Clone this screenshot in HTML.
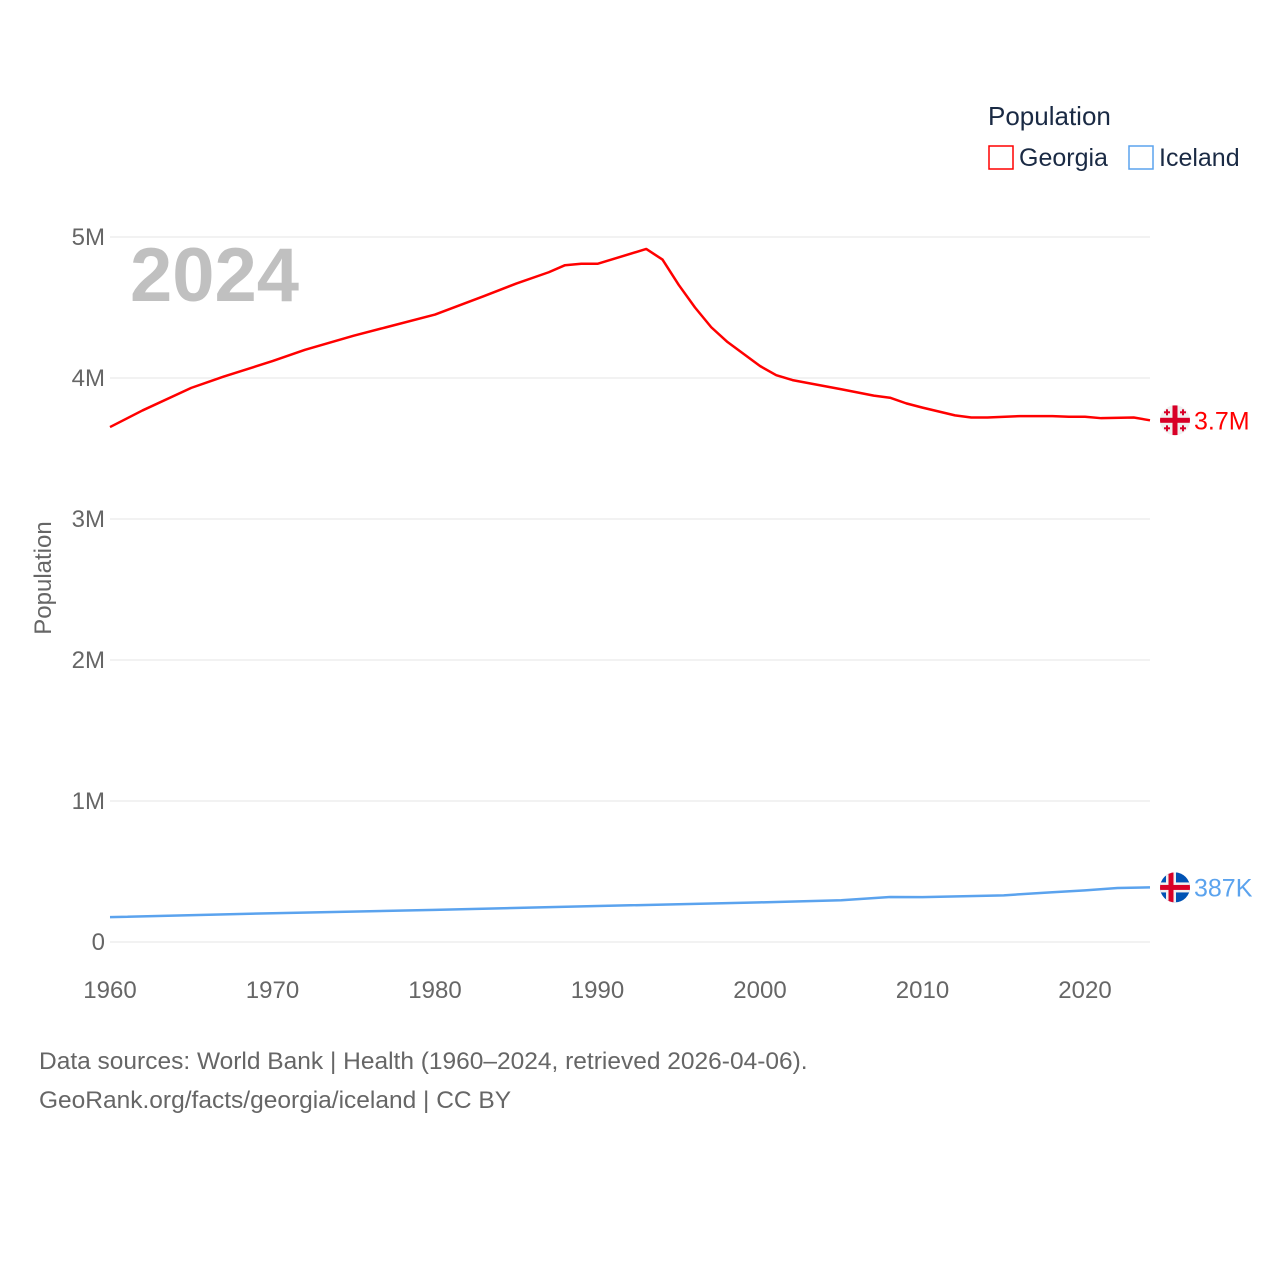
<!DOCTYPE html>
<html><head><meta charset="utf-8">
<style>
body{margin:0;background:#fff;}
svg{display:block;font-family:"Liberation Sans",sans-serif;}
</style></head>
<body>
<svg id="chart" width="1280" height="1280" viewBox="0 0 1280 1280">
<text x="988" y="125" font-size="26" fill="#1a2a44">Population</text>
<rect x="989" y="146" width="24" height="23" fill="none" stroke="#ff0000" stroke-width="1.5"/>
<text x="1019" y="166" font-size="25" fill="#1a2a44">Georgia</text>
<rect x="1129" y="146" width="24" height="23" fill="none" stroke="#5ba3ee" stroke-width="1.5"/>
<text x="1159" y="166" font-size="25" fill="#1a2a44">Iceland</text>
<text x="130" y="301" font-size="76" font-weight="bold" fill="#c0c0c0">2024</text>
<text transform="translate(51,578) rotate(-90)" text-anchor="middle" font-size="24" fill="#666">Population</text>
<g id="grid"></g><g id="xt"></g><g id="series"></g>
<text x="39" y="1069" font-size="24.5" fill="#666">Data sources: World Bank | Health (1960–2024, retrieved 2026-04-06).</text>
<text x="39" y="1108" font-size="24.5" fill="#666">GeoRank.org/facts/georgia/iceland | CC BY</text>
</svg>
<script>
const yTicks=[0,1,2,3,4,5];
const yTickLabels=["0","1M","2M","3M","4M","5M"];
const xTicks=[1960,1970,1980,1990,2000,2010,2020];
const georgiaYears=[1960,1962,1965,1967,1970,1972,1975,1977,1980,1983,1985,1987,1988,1989,1990,1993,1994,1995,1996,1997,1998,1999,2000,2001,2002,2005,2007,2008,2009,2010,2012,2013,2014,2016,2018,2019,2020,2021,2023,2024];
const georgiaValues=[3.652,3.77,3.93,4.01,4.12,4.20,4.30,4.36,4.45,4.58,4.67,4.75,4.80,4.81,4.81,4.915,4.84,4.66,4.50,4.36,4.255,4.17,4.085,4.02,3.985,3.92,3.875,3.86,3.82,3.79,3.735,3.72,3.72,3.73,3.73,3.725,3.725,3.715,3.72,3.70];
const icelandYears=[1960,1970,1980,1990,2000,2005,2008,2010,2015,2018,2020,2022,2024];
const icelandValues=[0.176,0.204,0.228,0.255,0.281,0.296,0.319,0.318,0.331,0.353,0.366,0.383,0.387];
const NS="http://www.w3.org/2000/svg";
const X=y=>110+(y-1960)*16.25;
const Y=v=>942-v*141;
function mk(t,a,p){const e=document.createElementNS(NS,t);for(const k in a)e.setAttribute(k,a[k]);p.appendChild(e);return e;}
const grid=document.getElementById('grid');
yTicks.forEach((v,i)=>{
 const l=mk('line',{x1:110,x2:1150,y1:Y(v),y2:Y(v),stroke:'#e6e6e6','stroke-width':1},grid);
 
 
 const t=mk('text',{x:105,y:Y(v)+8,'text-anchor':'end','font-size':24,fill:'#666'},grid);
 t.textContent=yTickLabels[i];
 
 
});
const xt=document.getElementById('xt');
xTicks.forEach(v=>{
 const t=mk('text',{x:X(v),y:998,'text-anchor':'middle','font-size':24,fill:'#666'},xt);
 t.textContent=v;
 
 
});
const s=document.getElementById('series');
function line(ys,vs,c,name){
 const p=mk('path',{d:ys.map((y,i)=>(i?'L':'M')+X(y)+','+Y(vs[i])).join(''),fill:'none',stroke:c,'stroke-width':2.5,'stroke-linejoin':'round'},s);
 
 
}
line(georgiaYears,georgiaValues,'#ff0000','georgia-line');
line(icelandYears,icelandValues,'#5ba3ee','iceland-line');
function flag(cy,kind,label,color,name){
 const g=mk('g',{},s);
 
 
 const cx=1175,r=15;
 const cid='c'+kind;
 const cp=mk('clipPath',{id:cid},g);mk('circle',{cx,cy,r},cp);
 const gg=mk('g',{'clip-path':'url(#'+cid+')'},g);
 if(kind==='ge'){
  mk('rect',{x:cx-r,y:cy-r,width:2*r,height:2*r,fill:'#f0f0f0'},gg);
  mk('rect',{x:cx-r,y:cy-2.5,width:2*r,height:5,fill:'#d80027'},gg);
  mk('rect',{x:cx-2.5,y:cy-r,width:5,height:2*r,fill:'#d80027'},gg);
  [[-8,-8],[8,-8],[-8,8],[8,8]].forEach(([dx,dy])=>{
   mk('rect',{x:cx+dx-3,y:cy+dy-1,width:6,height:2,fill:'#d80027'},gg);
   mk('rect',{x:cx+dx-1,y:cy+dy-3,width:2,height:6,fill:'#d80027'},gg);
  });
 }else{
  mk('rect',{x:cx-r,y:cy-r,width:2*r,height:2*r,fill:'#0052b4'},gg);
  mk('rect',{x:cx-r,y:cy-5,width:2*r,height:10,fill:'#f0f0f0'},gg);
  mk('rect',{x:cx-9,y:cy-r,width:10,height:2*r,fill:'#f0f0f0'},gg);
  mk('rect',{x:cx-r,y:cy-2.5,width:2*r,height:5,fill:'#d80027'},gg);
  mk('rect',{x:cx-6.5,y:cy-r,width:5,height:2*r,fill:'#d80027'},gg);
 }
 const t=mk('text',{x:1194,y:cy+9,'font-size':25,fill:color},s);
 t.textContent=label;
 
 
}
flag(Y(georgiaValues[georgiaValues.length-1]),'ge','3.7M','#ff0000','georgia');
flag(Y(icelandValues[icelandValues.length-1]),'is','387K','#5ba3ee','iceland');
</script>
</body></html>
